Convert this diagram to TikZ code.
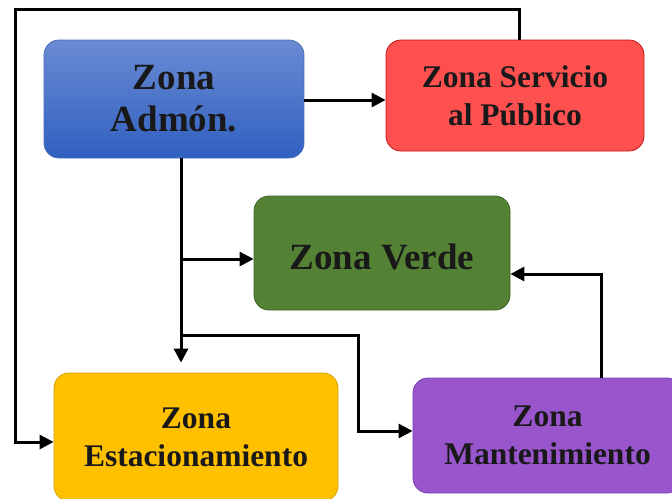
\documentclass[tikz,border=0pt]{standalone}
\usepackage{fontspec}
\setmainfont{Liberation Serif}
\usetikzlibrary{arrows.meta, positioning, calc}

\definecolor{admonTop}{HTML}{6A8BD3}
\definecolor{admonBot}{HTML}{3060C0}
\definecolor{admonLine}{HTML}{4A6FB8}
\definecolor{servFill}{HTML}{FF5050}
\definecolor{servLine}{HTML}{C01818}
\definecolor{verdeFill}{HTML}{548235}
\definecolor{verdeLine}{HTML}{3F6428}
\definecolor{estacFill}{HTML}{FFC000}
\definecolor{estacLine}{HTML}{D4A000}
\definecolor{mantFill}{HTML}{9955CC}
\definecolor{mantLine}{HTML}{7A3FB0}

\tikzset{
    zonebox/.style={draw, line width=0.8pt, rounded corners=15pt, align=center, text=black!90},
    bigtext/.style={font=\bfseries\fontsize{37}{42}\selectfont},
    smalltext/.style={font=\bfseries\fontsize{31.5}{38}\selectfont},
    conn/.style={-{Triangle[length=14pt, width=14pt]}, line width=3pt}
}

\begin{document}
\begin{tikzpicture}[x=1pt, y=-1pt]
    \useasboundingbox (0,0) rectangle (672,498);

    % zonas
    \node[zonebox, bigtext, draw=admonLine, top color=admonTop, bottom color=admonBot,
          minimum width=260pt, minimum height=118pt] (admon) at (174,99) {Zona\\Admón.};
    \node[zonebox, smalltext, draw=servLine, fill=servFill,
          minimum width=258pt, minimum height=111pt] (servicio) at (515,95.5) {Zona Servicio\\al Público};
    \node[zonebox, bigtext, draw=verdeLine, fill=verdeFill, text height=33pt,
          minimum width=256pt, minimum height=114pt] (verde) at (382,253) {Zona Verde};
    \node[zonebox, smalltext, draw=estacLine, fill=estacFill,
          minimum width=284pt, minimum height=128pt] (estac) at (196,437) {Zona\\Estacionamiento};
    \node[zonebox, smalltext, draw=mantLine, fill=mantFill,
          minimum width=269pt, minimum height=115pt] (mant) at (547.5,435.5) {Zona\\Mantenimiento};

    % puntos de quiebre
    \coordinate (ctop) at (15,9);
    \coordinate (cjoin) at (181,335);
    \coordinate (cbend) at (358,335);

    % conexiones
    \draw[conn] ([yshift=-1pt]admon.east) -- ([yshift=-1pt]admon.east -| servicio.west);
    \draw[conn] ([xshift=4pt]servicio.north) |- (ctop) |- ([yshift=-5pt]estac.west);
    \draw[conn] (admon.south -| cjoin) -- ([yshift=10pt]estac.north -| cjoin);
    \draw[conn] ([yshift=-6pt]verde.west -| cjoin) -- ([yshift=-6pt]verde.west);
    \draw[conn] (cjoin) -- (cbend) |- ([yshift=4.5pt]mant.west);
    \draw[conn] ([xshift=54pt]mant.north) |- ([yshift=-21pt]verde.east);
\end{tikzpicture}
\end{document}
